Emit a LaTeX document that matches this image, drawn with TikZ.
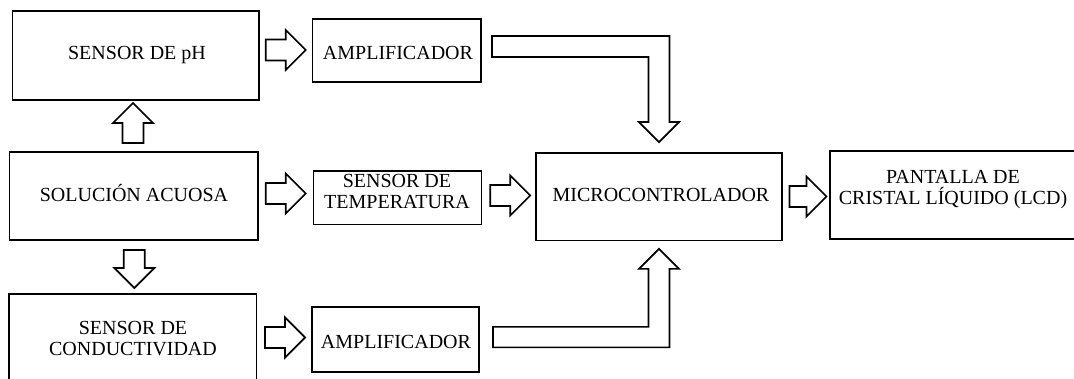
\documentclass[tikz,border=0pt]{standalone}
\usepackage{fontspec}
\setmainfont{Liberation Serif}
\usetikzlibrary{calc}
\tikzset{
  box/.style={draw, line width=1.8pt, rectangle, inner sep=0pt},
  lbl/.style={font=\fontsize{20}{21}\selectfont, align=center, inner sep=0pt, anchor=base},
  barrow/.style={draw, line width=1.7pt, fill=white, line join=miter},
}
\newcommand\blockarrow[3]{%
  \draw[barrow, shift={#1}, rotate=#2] (-#3/2,-10.5) -- (#3/2-20,-10.5) -- (#3/2-20,-20) -- (#3/2,0) -- (#3/2-20,20) -- (#3/2-20,10.5) -- (-#3/2,10.5) -- cycle;}
\begin{document}
\begin{tikzpicture}[x=1pt,y=-1pt]
\useasboundingbox (0,0) rectangle (1074,379);
\clip (0,0) rectangle (1074,379);
\fill[white] (0,0) rectangle (1074,379);
% boxes
\node[box, minimum width=246.5pt, minimum height=89pt] (ph) at (135.75,55.5) {};
\node[box, minimum width=168.5pt, minimum height=63pt] (ampT) at (396.75,50.5) {};
\node[box, minimum width=248.5pt, minimum height=88pt] (sol) at (133.75,196) {};
\node[box, minimum width=168pt, minimum height=53.5pt] (temp) at (397.5,197.75) {};
\node[box, minimum width=246pt, minimum height=87.5pt] (micro) at (659,196.75) {};
\node[box, minimum width=248pt, minimum height=88pt] (lcd) at (954,195.3) {};
\node[box, minimum width=247.2pt, minimum height=92pt] (cond) at (132.9,340) {};
\node[box, minimum width=167.4pt, minimum height=64.4pt] (ampB) at (395.3,339.5) {};
% labels (base = baseline of the last line)
\node[lbl] (phT) at (137,59.3) {SENSOR DE pH};
\node[lbl] (ampTT) at (398,60) {AMPLIFICADOR};
\node[lbl] (solT) at (134,202) {SOLUCIÓN ACUOSA};
\node[lbl] (tempT) at (397,208.5) {SENSOR DE\\TEMPERATURA};
\node[lbl] (microT) at (661,201.7) {MICROCONTROLADOR};
\node[lbl] (lcdT) at (953,205) {PANTALLA DE\\CRISTAL LÍQUIDO (LCD)};
\node[lbl] (condT) at (133,355.5) {SENSOR DE\\CONDUCTIVIDAD};
\node[lbl] (ampBT) at (396,348.5) {AMPLIFICADOR};
% straight block arrows
\blockarrow{($(ph.east)!.5!(ampT.west)+(0,-3)$)}{0}{40}
\blockarrow{($(sol.east)!.5!(temp.west)+(0,-3.4)$)}{0}{40}
\blockarrow{($(temp.east)!.5!(micro.west)+(1.5,-1.75)$)}{0}{40}
\blockarrow{($(micro.east)!.5!(lcd.west)+(2,0.5)$)}{0}{37}
\blockarrow{($(cond.east)!.5!(ampB.west)+(1,-2.25)$)}{0}{40}
\blockarrow{($(sol.north)!.5!(ph.south)+(-1.75,-3)$)}{90}{40}
\blockarrow{($(sol.south)!.5!(cond.north)+(1,2)$)}{-90}{38}
% elbow block arrows
\coordinate (t1) at ($(micro.north)+(0,-10)$);
\draw[barrow] (t1) -- ++(20,-20) -- ++(-9.5,0) -- ++(0,-86) -- ++(-177.5,0) -- ++(0,21) -- ++(156.5,0) -- ++(0,65) -- ++(-9.5,0) -- cycle;
\coordinate (t2) at ($(micro.south)+(0,7.5)$);
\draw[barrow] (t2) -- ++(20,20) -- ++(-9.5,0) -- ++(0,78.5) -- ++(-176.5,0) -- ++(0,-20.5) -- ++(155.5,0) -- ++(0,-58) -- ++(-9.5,0) -- cycle;
\end{tikzpicture}
\end{document}
